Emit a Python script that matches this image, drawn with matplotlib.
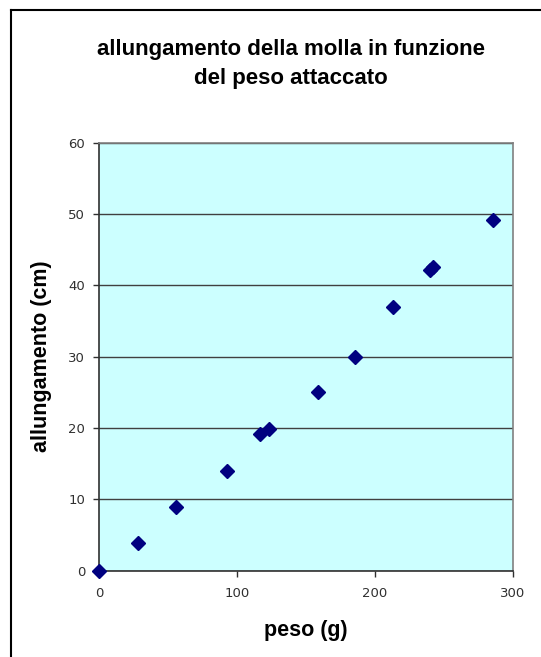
import matplotlib.pyplot as plt
from matplotlib.lines import Line2D

# peso (g) e allungamento (cm)
peso = [0, 28, 56, 93, 117, 123, 159, 186, 213, 240, 242, 286]
allungamento = [0, 3.9, 8.9, 14.0, 19.1, 19.9, 25.0, 30.0, 37.0, 42.1, 42.6, 49.1]

x_ticks = [0, 100, 200, 300]
y_ticks = [0, 10, 20, 30, 40, 50, 60]

plt.rcParams['font.family'] = ['Liberation Sans', 'DejaVu Sans']

fig = plt.figure(figsize=(5.41, 6.57), dpi=100)
ax = fig.add_axes([0.183, 0.1314, 0.7647, 0.6514])
ax.set_facecolor('#CCFFFF')

ax.plot(peso, allungamento, linestyle='none', marker='D', markersize=7,
        color='#000080', clip_on=False, zorder=3)

ax.set_xlim(0, 300)
ax.set_ylim(0, 60)
ax.set_xticks(x_ticks)
ax.set_yticks(y_ticks)
ax.yaxis.grid(True, color='#404040', linewidth=1.0)
ax.set_axisbelow(True)

for s in ['top', 'right']:
    ax.spines[s].set_color('#808080')
    ax.spines[s].set_linewidth(1.2)
for s in ['left', 'bottom']:
    ax.spines[s].set_color('#303030')
    ax.spines[s].set_linewidth(1.2)

ax.tick_params(direction='out', length=4, width=1, color='#303030',
               labelsize=9.5, labelcolor='#303030')
ax.tick_params(axis='x', pad=8)
ax.tick_params(axis='y', pad=6)
for lab in ax.get_xticklabels() + ax.get_yticklabels():
    lab.set_family('DejaVu Sans')

ax.set_xlabel('peso (g)', fontsize=15.5, fontweight='bold', labelpad=14)
ax.set_ylabel('allungamento (cm)', fontsize=15.5, fontweight='bold', labelpad=12)

fig.text(0.537, 0.903, 'allungamento della molla in funzione\ndel peso attaccato',
         ha='center', va='center', fontsize=16, fontweight='bold',
         linespacing=1.5)

# cornice del grafico (tagliata a destra e in basso)
fig.add_artist(Line2D([11 / 541, 1], [1 - 10 / 657, 1 - 10 / 657],
                      transform=fig.transFigure, color='black', linewidth=1.5))
fig.add_artist(Line2D([11 / 541, 11 / 541], [0, 1 - 10 / 657],
                      transform=fig.transFigure, color='black', linewidth=1.5))

fig.savefig('out.png', dpi=100)
